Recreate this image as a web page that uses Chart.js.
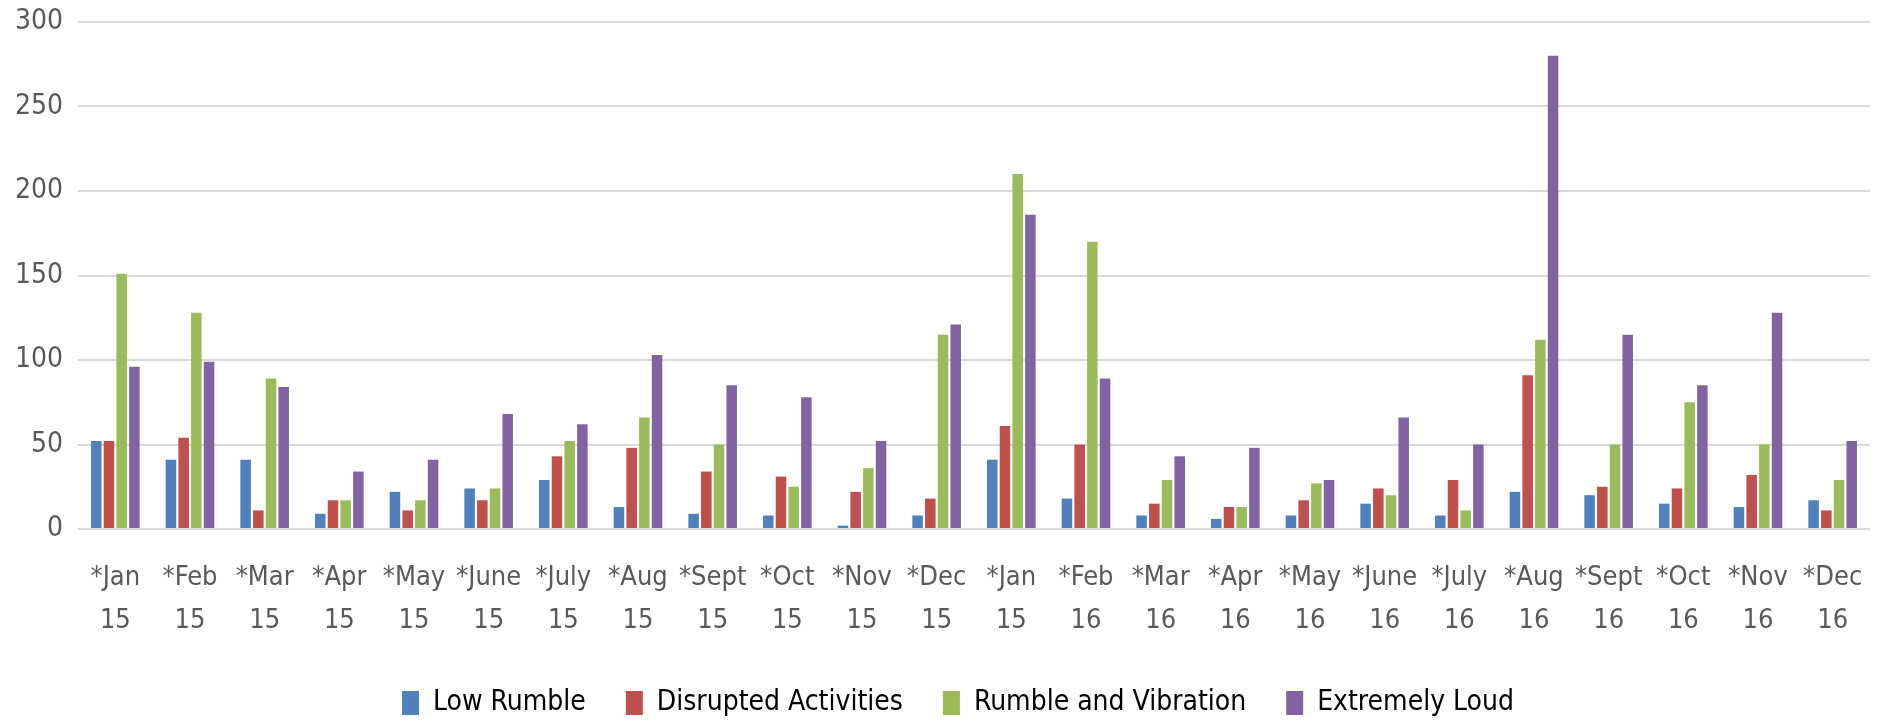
<!DOCTYPE html>
<html lang="en">
<head>
  <meta charset="UTF-8" />
  <title>Noise Complaints by Month</title>
  <script src="https://cdn.jsdelivr.net/npm/chart.js"></script>
  <style>
    html, body { margin: 0; padding: 0; background: #fff; }
    #wrap { width: 1894px; height: 721px; position: relative; }
  </style>
</head>
<body>
  <div id="wrap">
    <canvas id="noiseChart"></canvas>
  </div>

  <script>
    // months on the x axis (two-line labels)
    const months = [
      ['*Jan', '15'], ['*Feb', '15'], ['*Mar', '15'], ['*Apr', '15'], ['*May', '15'], ['*June', '15'],
      ['*July', '15'], ['*Aug', '15'], ['*Sept', '15'], ['*Oct', '15'], ['*Nov', '15'], ['*Dec', '15'],
      ['*Jan', '15'], ['*Feb', '16'], ['*Mar', '16'], ['*Apr', '16'], ['*May', '16'], ['*June', '16'],
      ['*July', '16'], ['*Aug', '16'], ['*Sept', '16'], ['*Oct', '16'], ['*Nov', '16'], ['*Dec', '16']
    ];

    const lowRumble = [52, 41, 41, 9, 22, 24, 29, 13, 9, 8, 2, 8, 41, 18, 8, 6, 8, 15, 8, 22, 20, 15, 13, 17];
    const disrupted = [52, 54, 11, 17, 11, 17, 43, 48, 34, 31, 22, 18, 61, 50, 15, 13, 17, 24, 29, 91, 25, 24, 32, 11];
    const rumbleVibration = [151, 128, 89, 17, 17, 24, 52, 66, 50, 25, 36, 115, 210, 170, 29, 13, 27, 20, 11, 112, 50, 75, 50, 29];
    const extremelyLoud = [96, 99, 84, 34, 41, 68, 62, 103, 85, 78, 52, 121, 186, 89, 43, 48, 29, 66, 50, 280, 115, 85, 128, 52];

    const yTicks = [0, 50, 100, 150, 200, 250, 300];

    const FONT = "'Liberation Sans Narrow', 'DejaVu Sans Condensed', 'Liberation Sans', sans-serif";

    const series = [
      { label: 'Low Rumble', data: lowRumble, color: '#4F81BD' },
      { label: 'Disrupted Activities', data: disrupted, color: '#C0504D' },
      { label: 'Rumble and Vibration', data: rumbleVibration, color: '#9BBB59' },
      { label: 'Extremely Loud', data: extremelyLoud, color: '#8064A2' }
    ];

    // nudge the legend a little right, the reference centres it over the plot
    const legendShift = {
      id: 'legendShift',
      afterLayout(chart) {
        chart.legend.left += 23;
        chart.legend.right += 23;
      }
    };

    new Chart(document.getElementById('noiseChart'), {
      type: 'bar',
      data: {
        labels: months,
        datasets: series.map(s => ({
          label: s.label,
          data: s.data,
          backgroundColor: s.color,
          borderWidth: 0,
          categoryPercentage: 0.68,
          barPercentage: 0.83
        }))
      },
      plugins: [legendShift],
      options: {
        responsive: true,
        maintainAspectRatio: false,
        animation: false,
        layout: { padding: { top: 22, right: 24, left: 0, bottom: -6 } },
        plugins: {
          legend: {
            position: 'bottom',
            labels: {
              font: { family: FONT, size: 28 },
              color: '#000',
              boxWidth: 17,
              boxHeight: 24,
              padding: 40
            }
          },
          tooltip: { enabled: false }
        },
        scales: {
          x: {
            grid: { display: false, drawTicks: false },
            border: { display: false },
            ticks: {
              font: { family: FONT, size: 27, lineHeight: 1.6 },
              color: '#595959',
              padding: 27,
              maxRotation: 0,
              autoSkip: false
            },
            afterFit: scale => { scale.height = 120; }
          },
          y: {
            min: 0,
            max: 300,
            afterBuildTicks: scale => { scale.ticks = yTicks.map(v => ({ value: v })); },
            grid: { color: '#D9D9D9', lineWidth: 2, drawTicks: false },
            border: { display: false },
            ticks: {
              font: { family: FONT, size: 28 },
              color: '#595959',
              padding: 15
            },
            afterFit: scale => {
              scale.width = 78;
              scale.paddingTop = 0;
              scale.paddingBottom = 0;
            }
          }
        }
      }
    });
  </script>
</body>
</html>
